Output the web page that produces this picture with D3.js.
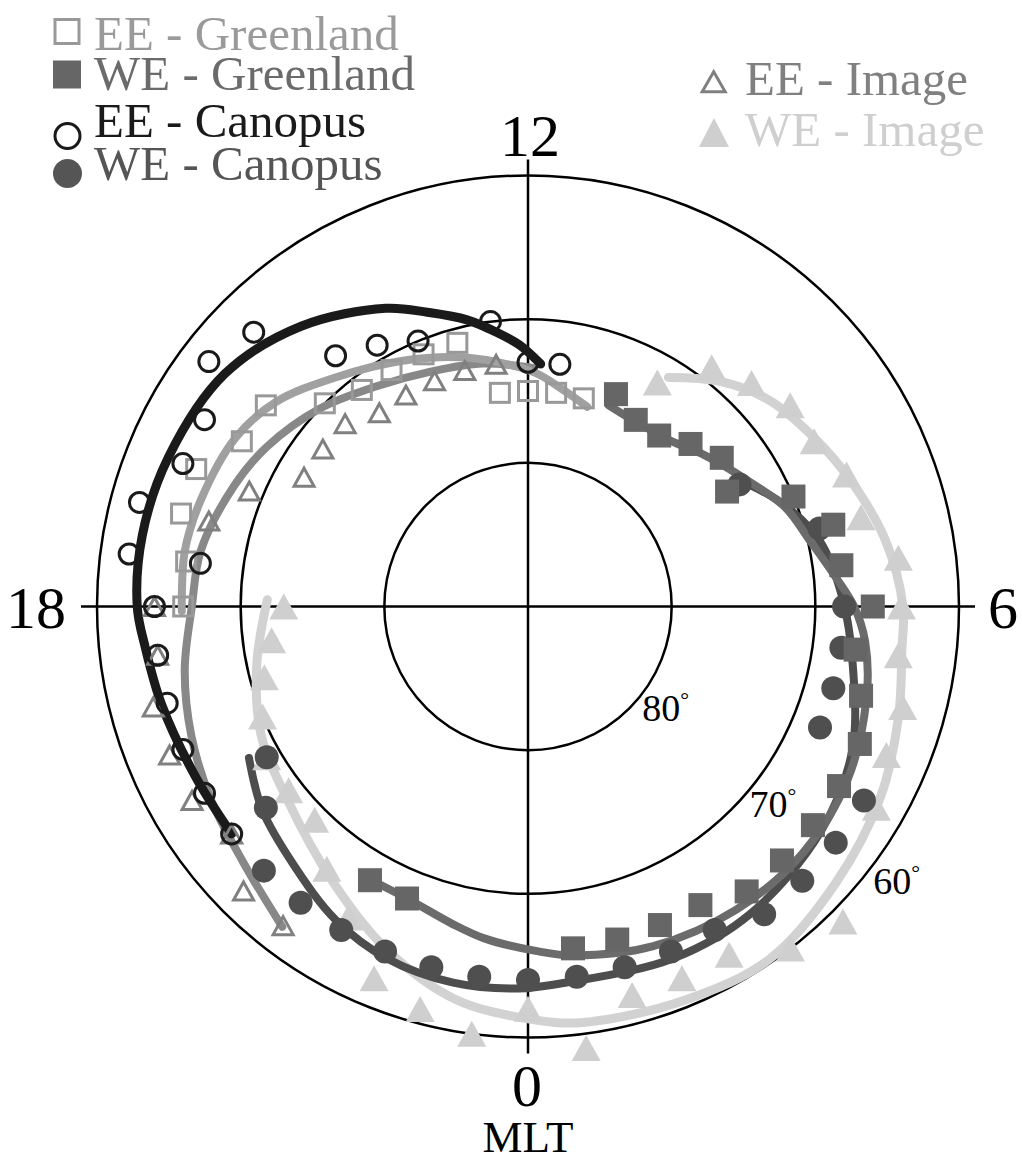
<!DOCTYPE html>
<html><head><meta charset="utf-8">
<script src="https://cdn.jsdelivr.net/npm/d3@7"></script>
<style>html,body{margin:0;padding:0;background:#fff;} svg{display:block;}</style>
</head><body>
<svg id="chart" width="1022" height="1161"></svg>
<script>
// ---------- data (MLT in hours, magnetic latitude in degrees) ----------
const eeGreenlandMLT = [11,11.5,12,12.5,13,13.5,14,14.5,15,15.5,16,16.5,17,17.5,18];
const eeGreenlandLat = [75,75,75,75,71,71,71,71,70,67,67,65,65,66,66];

const weGreenlandMLT = [22,22.5,0.5,1,1.5,2,2.5,3,3.5,4,4.5,5,5.5,6,6.5,7,7.5,8,8.5,9,9.5,10,10.5];
const weGreenlandLat = [68,68,66,66,66,66,65,65,65,65,65,66,67,66,68,68,70,74,73,74,75,75,74];

const eeCanopusMLT = [11.5,12,12.5,13.5,14,14.5,15,15.5,16,16.5,17,17.5,17.5,18,18.5,19,19.5,20,20.5];
const eeCanopusLat = [73,73,70,70,69,68,63,62,64,64,62,62,67,64,64,64,64,64,64];

const weCanopusMLT = [20,20.5,21,21.5,22,22.5,23,23.5,0,0.5,1,1.5,2,2.5,3,3.5,4,4.5,5,5.5,6,7,8];
const weCanopusLat = [69,67,64,64,64,64,64,64,64,64,64,64,64,63,63,63,63,68,68,68,68,69,73];

const eeImageMLT = [12.5,13,13.5,14,14.5,15,15.5,16,16.5,17,18,18.5,19,19.5,20,20.5,21,21.5];
const eeImageLat = [73,73,73,73,73,72,72,72,69,67,64,64,63,63,63,64,62,62];

const weImageMLT = [18,18.5,19,19.5,20,20.5,21,21.5,22,22.5,23,23.5,0,0.5,1,1.5,2,2.5,3,4,4.5,5,5.5,6,6.5,7,7.5,8,8.5,9,9.5,10];
const weImageLat = [73,72,71,70,69,69,69,67,65,62,61,60,62,59,62,62,62,60,59,62,63,63,64,64,64,66,66,67,67,68,69,72];

// fitted curves
const eeGreenlandFitMLT = [10.9,11.4,11.9,12.9,13.8,14.7,15.4,16.0,16.8,17.4,18.05];
const eeGreenlandFitLat = [75.5,74.7,73.7,72.2,70.8,69.1,67.4,66.5,66.05,65.8,65.9];

const weGreenlandFitMLT = [21.9,22.5,23.1,23.5,0.1,0.5,1.35,2.3,3.2,4.1,5.0,5.6,6.0,6.4,6.9,7.4,8.0,8.7,9.3,10.1,10.55];
const weGreenlandFitLat = [68.0,68.0,67.3,66.7,66.0,65.5,64.8,64.4,64.3,64.7,65.6,66.4,67.3,68.6,69.9,70.8,72.4,73.8,74.8,75.1,74.9];

const eeCanopusFitMLT = [11.8,12.12,12.4,12.8,13.26,13.7,14.6,15.5,16.5,17.3,18,18.4,19,19.8,20.5];
const eeCanopusFitLat = [73.1,71.8,70.9,69.6,68.35,67,64.9,63.4,62.9,62.7,62.8,63.2,63.6,64,64];

const weCanopusFitMLT = [19.9,20.5,21.2,21.9,22.55,23.25,23.9,0.4,1.5,2.4,3.5,4.4,5.3,6.1,6.85,7.5,8.1];
const weCanopusFitLat = [67.9,66.7,65.7,64.4,63.6,63.3,63.4,63.7,63.5,63.6,64.3,65.3,67.0,68.1,69.2,71.0,73.0];

const eeImageFitMLT = [11.9,12.7,13.5,14.3,15.1,15.9,16.5,17.35,18.0,18.7,19.4,20.1,20.8,21.5];
const eeImageFitLat = [73.4,72.8,72.3,71.4,70.0,68.7,67.9,66.9,66.6,65.7,64.9,64.15,63.35,61.9];

const weImageFitMLT = [17.9,18.8,19.7,20.6,21.65,22.5,23.3,0,0.5,1.46,2.3,3.2,4.1,4.9,5.56,6.0,6.7,7.4,8.05,8.7,9.3,9.9];
const weImageFitLat = [71.85,70.7,69.4,68.5,66.5,64.2,62.2,61.3,60.8,60.5,60.25,61.2,62.1,63.1,63.8,63.9,64.7,65.85,66.9,67.9,69.4,71.3];

// grid / tick labels
const gridLats = [80,70,60];
const gridLabels = ["80","70","60"];
const gridLabelMLT = [3.0,3.1,3.35];
const mltTicks = [12,18,6,0];
const mltTickLabels = ["12","18","6","0"];
const axisTitle = "MLT";

const legendLeft = ["EE - Greenland","WE - Greenland","EE - Canopus","WE - Canopus"];
const legendRight = ["EE - Image","WE - Image"];

// ---------- drawing ----------
const svg = d3.select("#chart");
const cx = 528, cy = 606.5, R = 431;
const rScale = d3.scaleLinear().domain([90,60]).range([0,R]);
const aScale = d3.scaleLinear().domain([0,24]).range([Math.PI,-Math.PI]);
const px = (m,l) => rScale(l)*Math.sin(aScale(m));
const py = (m,l) => -rScale(l)*Math.cos(aScale(m));
const FONT = "'Liberation Serif','Times New Roman',Times,serif";

const g = svg.append("g").attr("transform",`translate(${cx},${cy})`);

// grid circles
g.selectAll("circle.grid").data(gridLats).join("circle")
  .attr("class","grid").attr("r",d=>rScale(d))
  .attr("fill","none").attr("stroke","#000").attr("stroke-width",2.5);

// axis lines
const ext = 16;
g.append("line").attr("x1",-R-ext).attr("x2",R+ext).attr("y1",0).attr("y2",0)
  .attr("stroke","#000").attr("stroke-width",2.5);
g.append("line").attr("y1",-R-ext).attr("y2",R+ext).attr("x1",0).attr("x2",0)
  .attr("stroke","#000").attr("stroke-width",2.5);

// MLT tick labels
const tickPos = {
  12: {x:2, y:-R-20, anchor:"middle"},
  18: {x:-R-31, y:21, anchor:"end"},
  6:  {x:R+29, y:21, anchor:"start"},
  0:  {x:-1, y:R+68, anchor:"middle"}
};
mltTicks.forEach((m,i)=>{
  const p = tickPos[m];
  g.append("text").attr("x",p.x).attr("y",p.y).attr("text-anchor",p.anchor)
   .attr("font-family",FONT).attr("font-size",60).attr("fill","#000").text(mltTickLabels[i]);
});
g.append("text").attr("x",0).attr("y",R+114).attr("text-anchor","middle")
  .attr("font-family",FONT).attr("font-size",45).attr("fill","#000").text(axisTitle);

// latitude labels
gridLats.forEach((lat,i)=>{
  const m = gridLabelMLT[i];
  const rr = rScale(lat)+18;
  const a = aScale(m);
  const t = g.append("text").attr("x",rr*Math.sin(a)).attr("y",-rr*Math.cos(a))
    .attr("font-family",FONT).attr("font-size",38).attr("fill","#000").text(gridLabels[i]);
  t.append("tspan").attr("dy",-14).attr("font-size",22).text("°");
});

// fitted lines
const radialLine = d3.lineRadial().curve(d3.curveCatmullRom.alpha(0.5));
function fit(mlt, lat, color, width){
  const pts = mlt.map((m,i)=>[aScale(m), rScale(lat[i])]);
  g.append("path").attr("d",radialLine(pts)).attr("fill","none")
    .attr("stroke",color).attr("stroke-width",width).attr("stroke-linecap","round");
}
fit(weImageFitMLT, weImageFitLat, "#d2d2d2", 9);
fit(eeImageFitMLT, eeImageFitLat, "#888888", 8);
fit(eeGreenlandFitMLT, eeGreenlandFitLat, "#a0a0a0", 8);
fit(weCanopusFitMLT, weCanopusFitLat, "#4d4d4d", 8);
fit(weGreenlandFitMLT, weGreenlandFitLat, "#6b6b6b", 8);
fit(eeCanopusFitMLT, eeCanopusFitLat, "#1a1a1a", 9);

// markers
const tri = (s,h) => `M0,${-h/2}L${s/2},${h/2}L${-s/2},${h/2}Z`;
function markers(mlt, lat, drawFn){
  const sel = g.append("g").selectAll("g").data(mlt.map((m,i)=>[m,lat[i]])).join("g")
    .attr("transform",d=>`translate(${px(d[0],d[1])},${py(d[0],d[1])})`);
  drawFn(sel);
}
markers(weImageMLT, weImageLat, s=>s.append("path").attr("d",tri(29,26)).attr("fill","#cfcfcf"));
markers(eeImageMLT, eeImageLat, s=>s.append("path").attr("d",tri(20,18)).attr("fill","none")
  .attr("stroke","#808080").attr("stroke-width",3).attr("stroke-linejoin","miter"));
markers(weCanopusMLT, weCanopusLat, s=>s.append("circle").attr("r",12).attr("fill","#4f4f4f"));
markers(weGreenlandMLT, weGreenlandLat, s=>s.append("rect").attr("x",-12).attr("y",-12)
  .attr("width",24).attr("height",24).attr("fill","#666666"));
markers(eeGreenlandMLT, eeGreenlandLat, s=>s.append("rect").attr("x",-9.5).attr("y",-9.5)
  .attr("width",19).attr("height",19).attr("fill","none").attr("stroke","#999999").attr("stroke-width",3));
markers(eeCanopusMLT, eeCanopusLat, s=>s.append("circle").attr("r",10).attr("fill","none")
  .attr("stroke","#1a1a1a").attr("stroke-width",3));

// legend (left)
const legColors = ["#9a9a9a","#6b6b6b","#1a1a1a","#555555"];
const legBase = [50,90,137,180];
const leg = svg.append("g");
legendLeft.forEach((t,i)=>{
  leg.append("text").attr("x",94).attr("y",legBase[i]).attr("font-family",FONT)
    .attr("font-size",49).attr("fill",legColors[i]).text(t);
});
leg.append("rect").attr("x",55).attr("y",19.5).attr("width",24).attr("height",24)
  .attr("fill","none").attr("stroke","#999999").attr("stroke-width",3);
leg.append("rect").attr("x",53).attr("y",60.5).attr("width",28).attr("height",28).attr("fill","#666666");
leg.append("circle").attr("cx",67.5).attr("cy",136).attr("r",12.5).attr("fill","none")
  .attr("stroke","#1a1a1a").attr("stroke-width",3);
leg.append("circle").attr("cx",67.5).attr("cy",173.5).attr("r",14.5).attr("fill","#555555");

// legend (right)
const legRColors = ["#808080","#cfcfcf"];
const legRBase = [95,146];
legendRight.forEach((t,i)=>{
  leg.append("text").attr("x",745).attr("y",legRBase[i]).attr("font-family",FONT)
    .attr("font-size",49).attr("fill",legRColors[i]).text(t);
});
leg.append("path").attr("transform","translate(713.7,81.7)").attr("d",tri(23,20))
  .attr("fill","none").attr("stroke","#808080").attr("stroke-width",3);
leg.append("path").attr("transform","translate(714,132.5)").attr("d",tri(30,29)).attr("fill","#cfcfcf");
</script>
</body></html>
